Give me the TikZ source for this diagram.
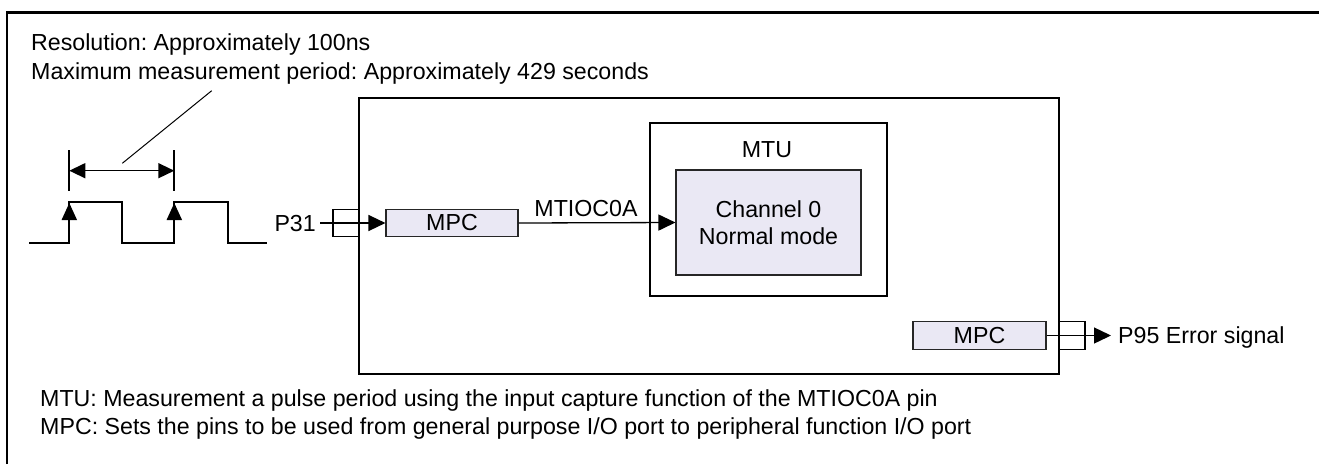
\documentclass[tikz,border=0pt]{standalone}
\usepackage{fontspec}
\setmainfont{Liberation Sans}
\usetikzlibrary{arrows.meta}
\definecolor{boxfill}{RGB}{234,232,244}
\frenchspacing
\begin{document}
\begin{tikzpicture}[x=1pt,y=-1pt,
  every node/.style={font=\fontsize{23.2}{28.5}\selectfont\frenchspacing, inner sep=0pt},
  frame/.style={line width=2.6pt},
  blk/.style={draw, line width=1.3pt},
  fillbox/.style={draw=black!85, line width=1.1pt, fill=boxfill},
  pinbox/.style={draw, line width=1.1pt, minimum width=26, minimum height=27.5},
  conn/.style={line width=1.3pt, -{Triangle[length=17pt,width=16pt]}},
  wave/.style={line width=2pt},
  lbl/.style={text height=16.6pt, text depth=0pt},
  risetip/.style={-{Triangle[length=17pt,width=15pt]}},
  dimtip/.style={{Triangle[length=16pt,width=15pt]}-{Triangle[length=16pt,width=15pt]}}
]
\useasboundingbox (0,0) rectangle (1319,464);

% outer frame (top and left edges)
\draw[frame] (7,464) -- (7,12.5) -- (1319,12.5);

% header text
\node[anchor=base west] (res) at (31,50) {Resolution: Approximately 100ns};
\node[anchor=base west] (maxp) at (31,79) {Maximum measurement period: Approximately 429 seconds};

% waveform
\draw[wave] (29,242.7) -| (69.3,202.3) -| (121.7,242.7) -| (174.3,202.3) -| (228.3,242.7) -- (266.7,242.7);
\draw[wave, risetip] (69.3,242.7) -- (69.3,203);
\draw[wave, risetip] (174.3,242.7) -- (174.3,203);
\draw[line width=1.8pt] (69.3,150) -- (69.3,190.7);
\draw[line width=1.8pt] (174.3,150) -- (174.3,190.7);
\draw[line width=1.5pt, dimtip] (69.3,170.7) -- (174.3,170.7);
\draw[line width=1pt] (122.3,163.3) -- (211.7,90.7);

% main blocks
\node[blk, minimum width=700, minimum height=276] (main) at (709,236) {};
\node[blk, minimum width=237, minimum height=173] (mtu) at (768.5,209.5) {};
\node (mtulbl) at (767,150) {MTU};
\node[fillbox, minimum width=185, minimum height=105, align=center] (ch) at (768.5,222.5) {Channel 0\\[-1.5pt]Normal mode};

\node[fillbox, minimum width=132, minimum height=27.5] (mpc1) at (452,223) {MPC};
\node[pinbox] (pin1) at (346,223) {};
\node[lbl, anchor=east, inner xsep=4pt] (p31) at (320,223) {P31};

\node[fillbox, minimum width=133, minimum height=27.5] (mpc2) at (979.5,335.5) {MPC};
\node[pinbox] (pin2) at (1072,335.5) {};
\node[lbl, anchor=west, inner xsep=7pt] (p95) at (1111,335.5) {P95 Error signal};

% connectors
\draw[conn] (p31.east) -- (mpc1.west);
\draw[conn] (mpc1.east) -- (ch.west);
\node[anchor=base] (mtioc) at (586,216.5) {MTIOC0A};
\draw[conn] (mpc2.east) -- (p95.west);

% footnotes
\node[anchor=base west] (note1) at (40,406.7) {MTU: Measurement a pulse period using the input capture function of the MTIOC0A pin};
\node[anchor=base west] (note2) at (40,434.3) {MPC: Sets the pins to be used from general purpose I/O port to peripheral function I/O port};
\end{tikzpicture}
\end{document}
